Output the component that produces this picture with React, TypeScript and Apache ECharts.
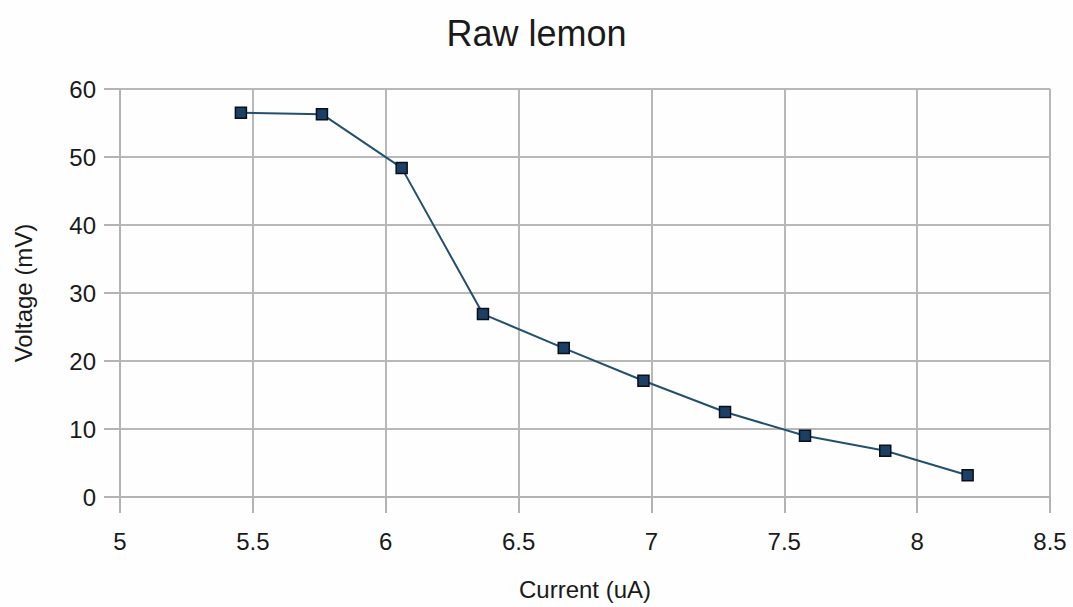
import React, { useEffect, useRef } from "react";
import * as echarts from "echarts";

const titleText = "Raw lemon";
const xName = "Current (uA)";
const yName = "Voltage (mV)";
const currentUA = [5.455, 5.76, 6.06, 6.366, 6.67, 6.97, 7.277, 7.578, 7.88, 8.19];
const voltageMV = [56.5, 56.3, 48.4, 26.9, 21.9, 17.1, 12.5, 9.0, 6.8, 3.2];

export default function App() {
  const ref = useRef<HTMLDivElement>(null);
  useEffect(() => {
    const chart = echarts.init(ref.current!, null, { renderer: "svg" });
    const font = "'Liberation Sans', Arial, sans-serif";
    chart.setOption({
      animation: false,
      backgroundColor: "#fdfefd",
      title: {
        text: titleText,
        left: "center",
        top: 10,
        textStyle: { fontFamily: font, fontSize: 36, fontWeight: "normal", color: "#1a1a1a" },
      },
      grid: { left: 120, right: 23, top: 89, bottom: 110 },
      xAxis: {
        type: "value",
        min: 5,
        max: 8.5,
        interval: 0.5,
        name: xName,
        nameLocation: "middle",
        nameGap: 80,
        nameTextStyle: { fontFamily: font, fontSize: 24, color: "#1a1a1a" },
        axisLine: { show: true, lineStyle: { color: "#b3b3b3", width: 2 } },
        axisTick: { show: true, length: 16, lineStyle: { color: "#b3b3b3", width: 2 } },
        splitLine: { show: true, lineStyle: { color: "#b8b8b8", width: 2 } },
        axisLabel: { fontFamily: font, fontSize: 24, color: "#1a1a1a", margin: 32 },
      },
      yAxis: {
        type: "value",
        min: 0,
        max: 60,
        interval: 10,
        name: yName,
        nameLocation: "middle",
        nameGap: 85,
        nameTextStyle: { fontFamily: font, fontSize: 24, color: "#1a1a1a" },
        axisLine: { show: true, lineStyle: { color: "#b3b3b3", width: 2 } },
        axisTick: { show: true, length: 16, lineStyle: { color: "#b3b3b3", width: 2 } },
        splitLine: { show: true, lineStyle: { color: "#b8b8b8", width: 2 } },
        axisLabel: { fontFamily: font, fontSize: 24, color: "#1a1a1a", margin: 24 },
      },
      series: [
        {
          type: "line",
          data: currentUA.map((x, i) => [x, voltageMV[i]]),
          symbol: "rect",
          symbolSize: 11,
          lineStyle: { color: "#22506e", width: 2 },
          itemStyle: { color: "#1c3f66", borderColor: "#0b0f1a", borderWidth: 1.5 },
        },
      ],
    });
    return () => chart.dispose();
  }, []);
  return (
    <div
      ref={ref}
      style={{ position: "absolute", left: 0, top: 0, width: 1073, height: 607 }}
    />
  );
}
